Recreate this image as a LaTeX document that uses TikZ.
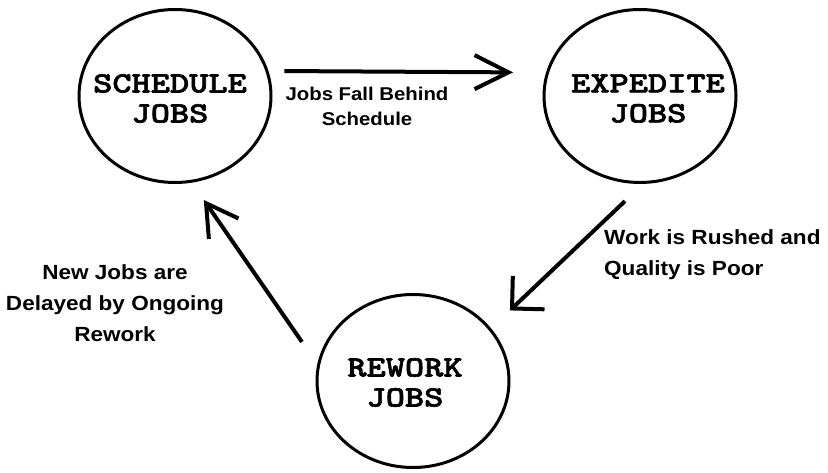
\documentclass[tikz,border=0pt]{standalone}
\usepackage{fontspec}
\usepackage{tikz}
\usetikzlibrary{arrows.meta,
                positioning,
                shapes.geometric}
\newfontfamily\lblfont{Liberation Sans}[FakeStretch=1.1]
\newfontfamily\jobfont{lmmonolt10-bold.otf}[FakeStretch=1.24, FakeBold=2]
\tikzstyle{jobcircle} = [ellipse, draw, line width=3pt, minimum width=192pt, minimum height=173pt, inner sep=0pt]
\tikzstyle{jobtext} = [align=center, inner sep=0pt, font=\jobfont\fontsize{29.5}{30}\selectfont]
\tikzstyle{lbl} = [inner sep=0pt, font=\lblfont\bfseries\fontsize{20.5}{31}\selectfont]
\tikzstyle{arrow} = [line width=4pt, -{Straight Barb[length=34pt,width=34pt]}]

\begin{document}
\begin{tikzpicture}[x=1pt, y=-1pt]
    \useasboundingbox (0,0) rectangle (828,473);

    \node[jobcircle] (c1) at (175,96) {};
    \node[jobcircle] (c2)[right= 270pt of c1] {};
    \node[jobcircle] (c3) at (413,381) {};

    \node[jobtext] (t1) at (170,98.5) {SCHEDULE\\JOBS};
    \node[jobtext] (t2) at (648,98.5) {EXPEDITE\\JOBS};
    \node[jobtext] (t3) at (405,382.5) {REWORK\\JOBS};

    \node[lbl, align=center, anchor=north, font=\lblfont\bfseries\fontsize{18.5}{25}\selectfont] (l1) at (367,87) {Jobs Fall Behind\\Schedule};
    \node[lbl, align=center, anchor=north] (l2) at (115,264) {New Jobs are\\Delayed by Ongoing\\Rework};
    \node[lbl, align=left, anchor=north west] (l3) at (604,229) {Work is Rushed and\\Quality is Poor};

    \draw[arrow, shorten <=16pt, shorten >=33pt] (c1.15) -- (c2.166);
    \draw[arrow, -{Straight Barb[length=23pt,width=46pt]}, shorten <=25pt, shorten >=26pt] (c2.272) -- (c3.34);
    \draw[arrow, -{Straight Barb[length=31pt,width=36pt]}, shorten <=27pt, shorten >=21pt] (c3.170) -- (c1.281);
\end{tikzpicture}
\end{document}
